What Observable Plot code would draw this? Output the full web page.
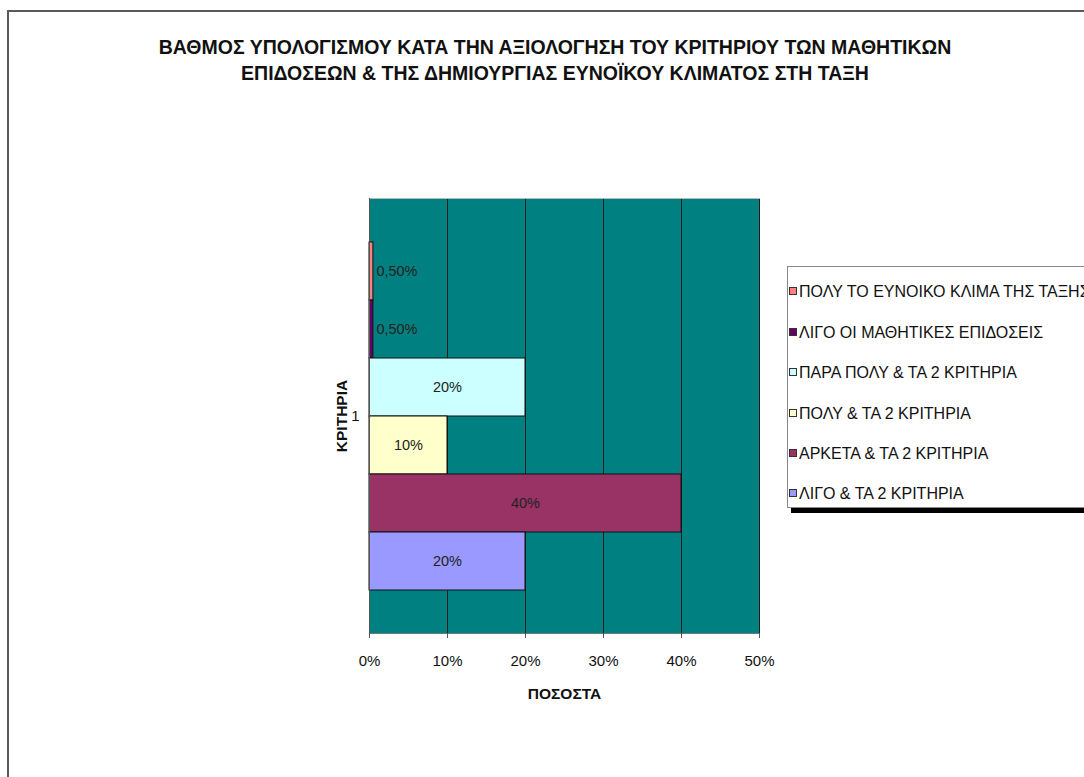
<!DOCTYPE html>
<html>
<head>
<meta charset="utf-8">
<script src="https://cdn.jsdelivr.net/npm/d3@7"></script>
<script src="https://cdn.jsdelivr.net/npm/@observablehq/plot@0.6"></script>
<style>
  html, body { margin: 0; padding: 0; background: #fff; overflow: hidden; }
  #page { position: relative; width: 1084px; height: 777px; overflow: hidden; font-family: "Liberation Sans", Arial, sans-serif; }
  #border { position: absolute; left: 7px; top: 10px; right: -10px; bottom: -10px; border-left: 2px solid #5a5a5a; border-top: 2px solid #5a5a5a; }
  #title { position: absolute; left: 0; width: 1110px; top: 34px; text-align: center; font-weight: bold; font-size: 19.5px; line-height: 26px; color: #111; }
  #chart { position: absolute; left: 0; top: 0; }
  #legend { position: absolute; left: 787px; top: 266px; width: 340px; height: 240px; background: #fff; border: 1px solid #888; box-shadow: 4px 5px 0 #000; }
  .item { position: absolute; left: 1px; font-size: 16px; color: #111; white-space: nowrap; line-height: 18px; }
  .sw { display: inline-block; width: 6px; height: 6px; border: 1px solid #333; margin-right: 2px; vertical-align: 2px; }
</style>
</head>
<body>
<div id="page">
  <div id="border"></div>
  <div id="chart"></div>
  <div id="title">ΒΑΘΜΟΣ ΥΠΟΛΟΓΙΣΜΟΥ ΚΑΤΑ ΤΗΝ ΑΞΙΟΛΟΓΗΣΗ ΤΟΥ ΚΡΙΤΗΡΙΟΥ ΤΩΝ ΜΑΘΗΤΙΚΩΝ<br>ΕΠΙΔΟΣΕΩΝ &amp; ΤΗΣ ΔΗΜΙΟΥΡΓΙΑΣ ΕΥΝΟΪΚΟΥ ΚΛΙΜΑΤΟΣ ΣΤΗ ΤΑΞΗ</div>
  <div id="legend"></div>
</div>
<script>
// Series (top to bottom as drawn, same order as legend)
const series = [
  "ΠΟΛΥ ΤΟ ΕΥΝΟΙΚΟ ΚΛΙΜΑ ΤΗΣ ΤΑΞΗΣ",
  "ΛΙΓΟ ΟΙ ΜΑΘΗΤΙΚΕΣ ΕΠΙΔΟΣΕΙΣ",
  "ΠΑΡΑ ΠΟΛΥ & ΤΑ 2 ΚΡΙΤΗΡΙΑ",
  "ΠΟΛΥ & ΤΑ 2 ΚΡΙΤΗΡΙΑ",
  "ΑΡΚΕΤΑ & ΤΑ 2 ΚΡΙΤΗΡΙΑ",
  "ΛΙΓΟ & ΤΑ 2 ΚΡΙΤΗΡΙΑ"
];
const values = [0.5, 0.5, 20, 10, 40, 20];
const valueLabels = ["0,50%", "0,50%", "20%", "10%", "40%", "20%"];
const colors = ["#FF8080", "#660066", "#CCFFFF", "#FFFFCC", "#993366", "#9999FF"];
const category = "1";
const xTicks = [0, 10, 20, 30, 40, 50];

const data = series.map((s, i) => ({series: s, value: values[i], label: valueLabels[i], cat: category}));

const chart = Plot.plot({
  width: 1084,
  height: 777,
  marginLeft: 369,
  marginRight: 325,
  marginTop: 198,
  marginBottom: 144,
  style: {fontFamily: "'Liberation Sans', Arial, sans-serif", fontSize: "15px", color: "#111", background: "transparent"},
  x: {domain: [0, 50], ticks: xTicks, tickFormat: d => d + "%", label: null},
  y: {domain: series, paddingInner: 0, paddingOuter: 0.74, axis: null},
  fy: {domain: [category], padding: 0, label: null},
  color: {domain: series, range: colors},
  marks: [
    Plot.frame({fill: "#008080", stroke: null}),
    Plot.gridX(xTicks, {stroke: "#1c1c1c", strokeOpacity: 1, strokeWidth: 1}),
    Plot.frame({anchor: "top", stroke: "#b8b8b8"}),
    Plot.barX(data, {x: "value", y: "series", fy: "cat", fill: "series", stroke: "#111", strokeWidth: 1}),
    Plot.text(data.filter(d => d.value < 5), {x: "value", y: "series", fy: "cat", text: "label", textAnchor: "start", dx: 3, fill: "#222", fontSize: 14.5}),
    Plot.text(data.filter(d => d.value >= 5), {x: d => d.value / 2, y: "series", fy: "cat", text: "label", fill: "#222", fontSize: 14.5}),
    Plot.frame({anchor: "left", stroke: "#555"}),
    Plot.frame({anchor: "bottom", stroke: "#777"}),
    Plot.axisX({ticks: xTicks, tickFormat: d => d + "%", tickSize: 5, tickPadding: 17, stroke: "#555", fontSize: 15, label: null}),
    Plot.axisFy({anchor: "left", tickSize: 0, tickPadding: 10, fontSize: 15, label: null}),
    Plot.text(["ΠΟΣΟΣΤΑ"], {frameAnchor: "bottom", lineAnchor: "middle", dy: 61, fontWeight: "bold", fontSize: 15.5, fill: "#111"}),
    Plot.text(["ΚΡΙΤΗΡΙΑ"], {frameAnchor: "left", textAnchor: "middle", lineAnchor: "middle", dx: -27, rotate: -90, fontWeight: "bold", fontSize: 15.5, fill: "#111"})
  ]
});
document.getElementById("chart").appendChild(chart);

// Legend
const legend = document.getElementById("legend");
const legendTop = [25, 66, 106, 147, 187, 227];
series.forEach((s, i) => {
  const item = document.createElement("div");
  item.className = "item";
  item.style.top = (legendTop[i] - 9) + "px";
  const sw = document.createElement("span");
  sw.className = "sw";
  sw.style.background = colors[i];
  item.appendChild(sw);
  item.appendChild(document.createTextNode(s));
  legend.appendChild(item);
});
</script>
</body>
</html>
